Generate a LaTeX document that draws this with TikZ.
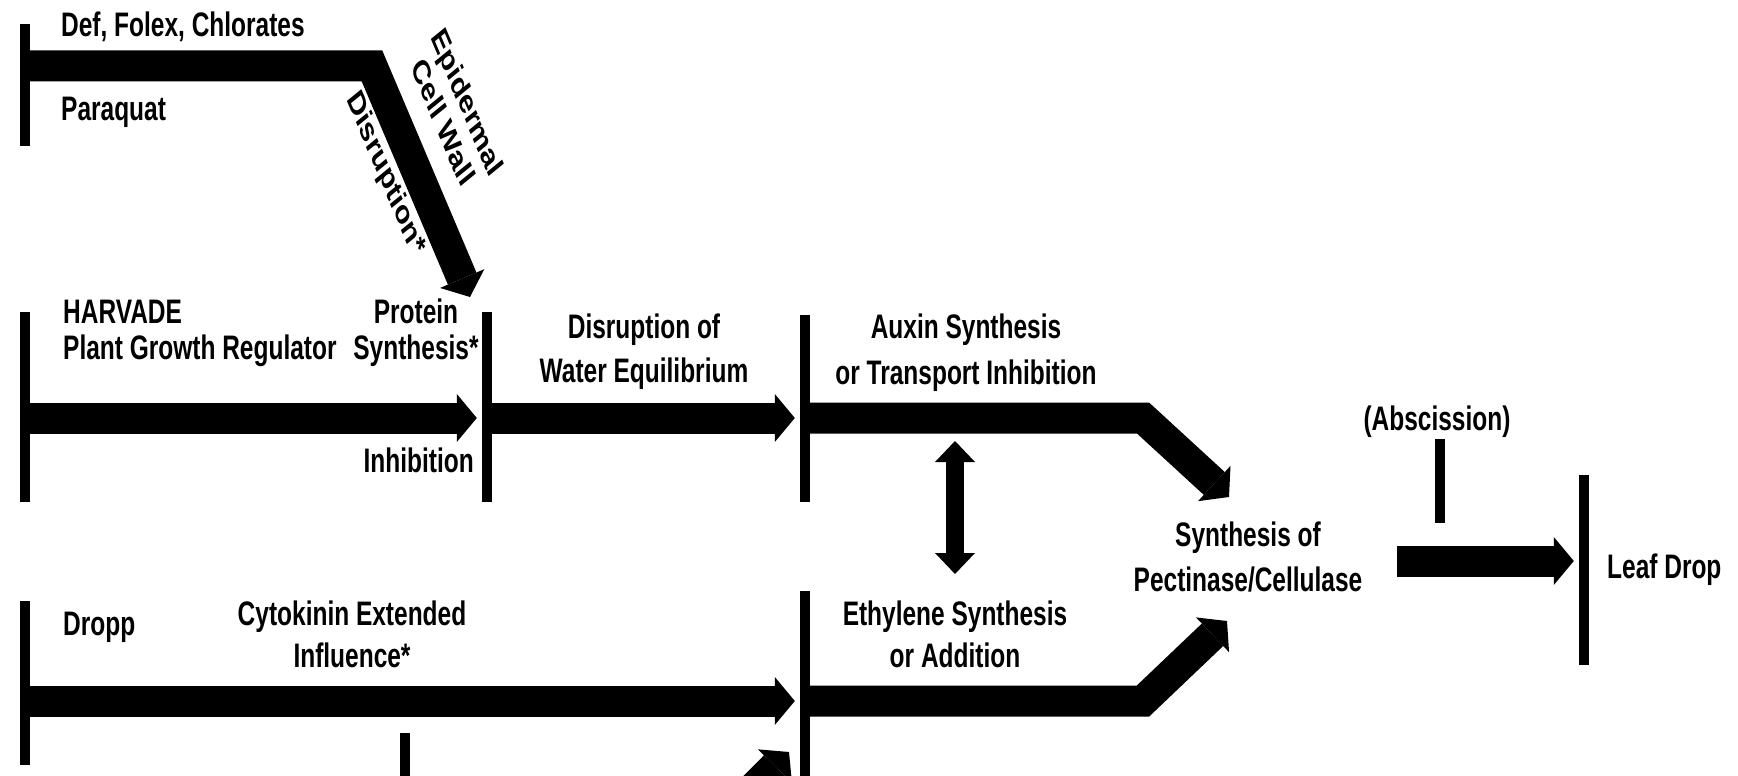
\documentclass[tikz,border=0pt]{standalone}
\usepackage{fontspec}
\newfontfamily\lblfont{Liberation Sans}[FakeStretch=0.72]
\newfontfamily\lblplain{Liberation Sans}
\usetikzlibrary{arrows.meta}
\begin{document}
\begin{tikzpicture}[x=1pt,y=-1pt,
  lbl/.style={font=\lblfont\bfseries\fontsize{34}{#1}\selectfont, inner sep=0pt, align=center},
  lbl/.default=41,
  rot/.style={font=\lblplain\bfseries\fontsize{34}{39}\selectfont, inner sep=0pt, align=center, transform shape},
  bar/.style={rectangle, fill=black, draw=none, minimum width=10pt, inner sep=0pt},
  band/.style={line width=31pt, line join=miter, -{Triangle[length=20pt,width=48pt,line width=0pt]}},
  tobar/.style={shorten >=5pt},
  dbl/.style={line width=18pt, {Triangle[length=21pt,width=40pt,line width=0pt]}-{Triangle[length=21pt,width=40pt,line width=0pt]}}
]
\useasboundingbox (0,0) rectangle (1738,776);
\clip (0,0) rectangle (1738,776);

% bars
\node[bar, minimum height=122pt] (b1) at (25,85) {};
\node[bar, minimum height=190pt] (b2) at (25,407) {};
\node[bar, minimum height=190pt] (b3) at (487,407) {};
\node[bar, minimum height=187pt] (b4) at (805,408.5) {};
\node[bar, minimum height=164pt] (b5) at (25,683) {};
\node[bar, minimum height=220pt] (b6) at (805,701) {};
\node[bar, minimum height=84pt] (b7) at (1440,481) {};
\node[bar, minimum height=190pt] (b8) at (1584,570) {};
\node[bar, minimum height=64pt] (b9) at (405,765) {};

% row coordinates
\coordinate (r1) at (0,66);
\coordinate (r2) at (0,418);
\coordinate (r3) at (0,701);
\coordinate (k1) at (372,66);
\coordinate (t1) at (470,297);
\coordinate (k4) at (1143,418);
\coordinate (t4) at (1229,497);
\coordinate (k5) at (1143,701);
\coordinate (t5) at (1227,621);
\coordinate (s7) at (1397,561);
\coordinate (d1) at (955,441);
\coordinate (d2) at (955,574);
\coordinate (p0) at (690,852);
\coordinate (p1) at (789,752);

% connectors
\draw[band] (b1 |- r1) -- (k1) -- (t1);
\draw[band,tobar] (b2 |- r2) -- (b3.west |- r2);
\draw[band,tobar] (b3 |- r2) -- (b4.west |- r2);
\draw[band] (b4 |- r2) -- (k4) -- (t4);
\draw[band,tobar] (b5 |- r3) -- (b6.west |- r3);
\draw[band] (b6 |- r3) -- (k5) -- (t5);
\draw[band,tobar] (s7) -- (b8.west |- s7);
\draw[dbl] (d1) -- (d2);
\draw[band] (p0) -- (p1);

% labels (anchor base = baseline of the last line)
\node[lbl, anchor=base west] (tdef) at (61,37) {Def, Folex, Chlorates};
\node[lbl, anchor=base west] (tpq) at (61,121) {Paraquat};
\begin{scope}[xscale=0.72]
  \node[rot, rotate=-59.5] (tepi) at (633,112) {Epidermal\\Cell Wall};
  \node[rot, rotate=-59.5] (tdis) at (535,174) {Disruption*};
\end{scope}
\node[lbl=36, anchor=base west, align=left] (tharv) at (63,359) {HARVADE\\Plant Growth Regulator};
\node[lbl=36, anchor=base] (tprot) at (416,359) {Protein\\Synthesis*};
\node[lbl, anchor=base east] (tinh) at (474,472) {Inhibition};
\node[lbl=44, anchor=base] (twat) at (644,382) {Disruption of\\Water Equilibrium};
\node[lbl=46, anchor=base] (taux) at (966,384) {Auxin Synthesis\\or Transport Inhibition};
\node[lbl=45, anchor=base] (tpec) at (1248,591) {Synthesis of\\Pectinase/Cellulase};
\node[lbl, anchor=base] (tabs) at (1437,430) {(Abscission)};
\node[lbl, anchor=base west] (tleaf) at (1607,578) {Leaf Drop};
\node[lbl, anchor=base west] (tdropp) at (63,635) {Dropp};
\node[lbl=42, anchor=base] (tcyt) at (352,667) {Cytokinin Extended\\Influence*};
\node[lbl=42, anchor=base] (teth) at (955,667) {Ethylene Synthesis\\or Addition};
\end{tikzpicture}
\end{document}
